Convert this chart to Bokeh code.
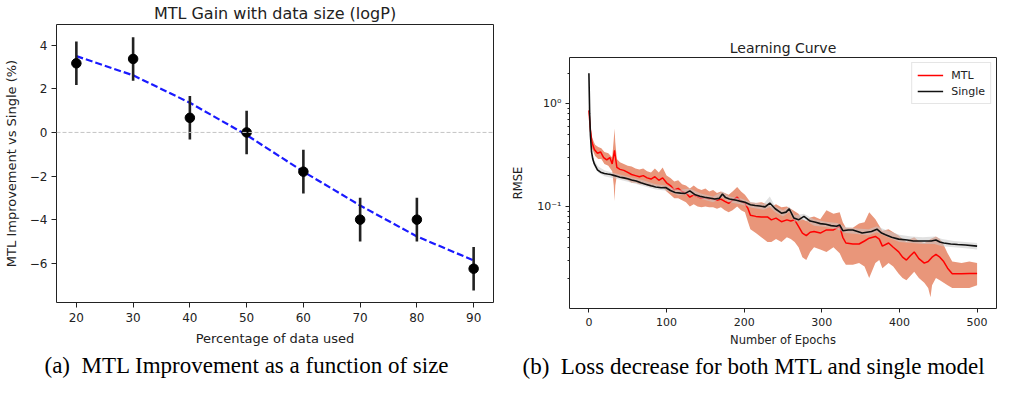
from bokeh.plotting import figure
from bokeh.layouts import row
from bokeh.models import (Range1d, FixedTicker, Span, Title, Legend, LegendItem,
                          CustomJSTickFormatter)
from bokeh.embed import file_html
from bokeh.resources import INLINE

# ---------------- Left panel data ----------------
pct_used = [20, 30, 40, 50, 60, 70, 80, 90]
gain_pct = [3.17, 3.37, 0.67, 0.0, -1.8, -4.0, -4.0, -6.25]
gain_err = [1.0, 1.0, 1.0, 1.0, 1.0, 1.0, 1.0, 1.0]
gain_fit = [3.5, 2.62, 1.36, -0.12, -1.8, -3.35, -4.77, -5.87]
left_yticks = [-6, -4, -2, 0, 2, 4]
caption_a = "(a)\u00a0 MTL Improvement as a function of size"

# ---------------- Right panel data ----------------
mtl_epochs = [0, 2, 4, 7, 11, 15, 19, 23, 27, 30, 33, 36, 40, 45, 50, 55, 60, 65, 70, 75,
              80, 85, 90, 95, 100, 105, 110, 115, 120, 125, 130, 135, 140, 145, 150, 155, 160, 165, 170, 175,
              180, 185, 191, 196, 201, 205, 208, 215, 222, 230, 235, 241, 248, 255, 260, 265, 270, 275, 280, 285,
              290, 298, 306, 315, 323, 327, 331, 340, 348, 355, 361, 369, 374, 378, 386, 392, 399, 404, 409, 414,
              419, 425, 432, 437, 442, 447, 452, 457, 462, 468, 480, 490, 500]
mtl_rmse = [0.865, 0.55, 0.42, 0.36, 0.33, 0.34, 0.30, 0.285, 0.30, 0.26, 0.353, 0.24, 0.23, 0.225, 0.215, 0.205, 0.20, 0.195, 0.20, 0.19,
            0.185, 0.195, 0.18, 0.19, 0.17, 0.16, 0.145, 0.15, 0.14, 0.135, 0.123, 0.13, 0.125, 0.12, 0.122, 0.118, 0.12, 0.115, 0.118, 0.112,
            0.107, 0.115, 0.123, 0.112, 0.107, 0.095, 0.082, 0.08, 0.079, 0.079, 0.074, 0.077, 0.071, 0.074, 0.072, 0.074, 0.064, 0.055, 0.052, 0.056,
            0.057, 0.055, 0.059, 0.059, 0.064, 0.05, 0.044, 0.043, 0.043, 0.046, 0.049, 0.051, 0.048, 0.041, 0.044, 0.04, 0.036, 0.032, 0.030, 0.033,
            0.036, 0.031, 0.028, 0.029, 0.032, 0.034, 0.032, 0.029, 0.025, 0.022, 0.022, 0.0222, 0.0222]

mtl_band_epochs = [0, 2, 4, 8, 12, 16, 20, 25, 30, 32, 33, 34, 36, 40, 45, 50, 55, 60, 65, 70,
                   75, 80, 85, 90, 95, 100, 105, 110, 115, 120, 125, 130, 135, 140, 145, 150, 155, 160, 165, 170,
                   175, 180, 185, 191, 196, 201, 205, 208, 215, 222, 230, 235, 241, 248, 255, 260, 265, 270, 275, 280,
                   285, 290, 298, 306, 315, 323, 327, 331, 340, 348, 355, 361, 369, 374, 378, 386, 392, 399, 404, 409,
                   414, 419, 425, 432, 437, 440, 442, 447, 452, 457, 462, 468, 480, 490, 500]
mtl_hi = [0.95, 0.62, 0.47, 0.40, 0.38, 0.37, 0.34, 0.33, 0.30, 0.45, 0.575, 0.42, 0.29, 0.27, 0.26, 0.25, 0.245, 0.235, 0.23, 0.235,
          0.22, 0.215, 0.235, 0.215, 0.24, 0.2, 0.19, 0.175, 0.18, 0.165, 0.16, 0.15, 0.16, 0.15, 0.145, 0.15, 0.14, 0.145, 0.135, 0.14,
          0.135, 0.13, 0.14, 0.155, 0.14, 0.13, 0.118, 0.11, 0.108, 0.11, 0.105, 0.1, 0.105, 0.098, 0.1, 0.095, 0.09, 0.085, 0.075, 0.072,
          0.078, 0.08, 0.075, 0.092, 0.085, 0.088, 0.07, 0.062, 0.062, 0.068, 0.07, 0.088, 0.075, 0.065, 0.058, 0.06, 0.056, 0.052, 0.048, 0.045,
          0.048, 0.05, 0.046, 0.044, 0.046, 0.048, 0.049, 0.051, 0.048, 0.042, 0.035, 0.029, 0.028, 0.029, 0.028]
mtl_lo = [0.80, 0.48, 0.37, 0.31, 0.29, 0.29, 0.26, 0.25, 0.22, 0.16, 0.113, 0.16, 0.20, 0.19, 0.185, 0.18, 0.17, 0.17, 0.165, 0.165,
          0.16, 0.155, 0.16, 0.155, 0.155, 0.14, 0.13, 0.12, 0.12, 0.115, 0.11, 0.1, 0.105, 0.1, 0.098, 0.1, 0.098, 0.098, 0.095, 0.098,
          0.092, 0.088, 0.092, 0.1, 0.092, 0.088, 0.07, 0.06, 0.055, 0.05, 0.045, 0.045, 0.048, 0.045, 0.05, 0.048, 0.045, 0.04, 0.032, 0.03,
          0.036, 0.04, 0.038, 0.036, 0.04, 0.035, 0.03, 0.027, 0.027, 0.028, 0.026, 0.02, 0.028, 0.03, 0.025, 0.028, 0.026, 0.022, 0.02, 0.019,
          0.021, 0.023, 0.02, 0.018, 0.016, 0.013, 0.017, 0.02, 0.019, 0.018, 0.017, 0.016, 0.016, 0.016, 0.017]

single_epochs = [0, 1, 2, 3.4, 5, 7, 11, 15, 20, 24, 28, 32, 36, 40, 45, 50, 55, 61, 67, 74,
                 80, 86, 93, 99, 105, 111, 118, 124, 130, 137, 143, 149, 155, 162, 168, 172, 176, 181, 190, 196,
                 201, 208, 214, 220, 227, 233, 240, 248, 254, 258, 264, 270, 277, 285, 292, 298, 305, 312, 319, 323,
                 327, 334, 340, 346, 352, 358, 364, 371, 377, 382, 390, 399, 410, 418, 424, 430, 436, 441, 447, 452,
                 457, 466, 475, 485, 500]
single_rmse = [1.99, 0.8, 0.49, 0.34, 0.29, 0.26, 0.228, 0.216, 0.21, 0.207, 0.205, 0.201, 0.197, 0.193, 0.19, 0.186, 0.181, 0.177, 0.17, 0.164,
               0.159, 0.155, 0.152, 0.153, 0.143, 0.137, 0.135, 0.134, 0.142, 0.13, 0.126, 0.123, 0.121, 0.118, 0.12, 0.132, 0.122, 0.118, 0.115, 0.112,
               0.11, 0.104, 0.102, 0.101, 0.099, 0.108, 0.095, 0.086, 0.088, 0.095, 0.077, 0.074, 0.08, 0.072, 0.07, 0.068, 0.067, 0.065, 0.064, 0.066,
               0.058, 0.059, 0.059, 0.057, 0.055, 0.056, 0.057, 0.06, 0.055, 0.053, 0.05, 0.048, 0.047, 0.046, 0.046, 0.046, 0.046, 0.046, 0.047, 0.045,
               0.044, 0.043, 0.0425, 0.042, 0.041]

single_band_epochs = [0, 1, 2, 4, 7, 12, 20, 30, 40, 55, 70, 86, 100, 115, 130, 145, 160, 172, 181, 195,
                      210, 225, 233, 240, 250, 258, 265, 277, 290, 305, 320, 330, 345, 360, 371, 385, 400, 415, 430, 445,
                      455, 470, 485, 500]
single_hi = [2.3, 0.95, 0.55, 0.33, 0.28, 0.245, 0.225, 0.215, 0.205, 0.192, 0.18, 0.165, 0.16, 0.145, 0.15, 0.133, 0.125, 0.14, 0.125, 0.12,
             0.11, 0.106, 0.125, 0.1, 0.092, 0.1, 0.082, 0.085, 0.075, 0.071, 0.069, 0.063, 0.061, 0.06, 0.064, 0.058, 0.053, 0.051, 0.05, 0.051,
             0.048, 0.046, 0.045, 0.044]
single_lo = [1.8, 0.7, 0.44, 0.29, 0.245, 0.215, 0.197, 0.19, 0.182, 0.17, 0.158, 0.146, 0.142, 0.128, 0.132, 0.118, 0.11, 0.122, 0.11, 0.105,
             0.097, 0.093, 0.098, 0.088, 0.08, 0.088, 0.071, 0.074, 0.065, 0.063, 0.06, 0.055, 0.054, 0.052, 0.056, 0.05, 0.045, 0.044, 0.043, 0.043,
             0.041, 0.04, 0.039, 0.038]

epoch_ticks = [0, 100, 200, 300, 400, 500]
log_major = [0.1, 1]
log_minor = [0.02, 0.03, 0.04, 0.05, 0.06, 0.07, 0.08, 0.09,
             0.2, 0.3, 0.4, 0.5, 0.6, 0.7, 0.8, 0.9, 2]
caption_b = "(b)\u00a0 Loss decrease for both MTL and single model"

SANS = "DejaVu Sans"
SERIF = "Liberation Serif"
INK = "#222222"


def style_axes(p, tick_size, label_size, tick_out):
    p.xgrid.visible = False
    p.ygrid.visible = False
    p.outline_line_color = INK
    p.outline_line_width = 1
    for ax in (p.xaxis[0], p.yaxis[0]):
        ax.axis_line_color = None
        ax.major_tick_in = 0
        ax.major_tick_out = tick_out
        ax.major_tick_line_color = INK
        ax.minor_tick_in = 0
        ax.minor_tick_out = 2
        ax.minor_tick_line_color = INK
        ax.major_label_text_font = SANS
        ax.major_label_text_font_size = tick_size
        ax.major_label_text_color = INK
        ax.axis_label_text_font = SANS
        ax.axis_label_text_font_size = label_size
        ax.axis_label_text_font_style = "normal"
        ax.axis_label_text_color = INK


def add_caption(p, text, offset):
    p.add_layout(Title(text=text, text_font=SERIF, text_font_size="23px",
                       text_font_style="normal", text_color="black",
                       align="left", offset=offset, standoff=4), "below")


# ---------------- Left figure ----------------
p1 = figure(width=505, height=380, x_range=Range1d(16.5, 93.5), y_range=Range1d(-7.8, 4.95),
            output_backend="svg", toolbar_location=None,
            min_border_left=52, min_border_right=12, min_border_top=22, min_border_bottom=78)
p1.frame_align = False
p1.title.text = "MTL Gain with data size (logP)"
p1.title.align = "center"
p1.title.text_font = SANS
p1.title.text_font_size = "16px"
p1.title.text_font_style = "normal"
p1.title.text_color = INK
p1.title.standoff = 3

style_axes(p1, "12px", "13px", 5)
p1.xaxis.ticker = FixedTicker(ticks=pct_used)
p1.yaxis.ticker = FixedTicker(ticks=left_yticks)
p1.yaxis.major_label_overrides = {t: (str(t).replace("-", "\u2212")) for t in left_yticks}
p1.xaxis.axis_label = "Percentage of data used"
p1.yaxis.axis_label = "MTL Improvement vs Single (%)"
p1.xaxis.major_label_standoff = 5
p1.yaxis.major_label_standoff = 4
p1.xaxis.axis_label_standoff = 6
p1.yaxis.axis_label_standoff = 8

p1.add_layout(Span(location=0, dimension="width", line_color="#c4c4c4",
                   line_dash="4 2", line_width=1))
p1.line(pct_used, gain_fit, line_color="#1a1aff", line_width=2.2, line_dash="7 3")
err_lo = [g - e for g, e in zip(gain_pct, gain_err)]
err_hi = [g + e for g, e in zip(gain_pct, gain_err)]
p1.segment(x0=pct_used, y0=err_lo, x1=pct_used, y1=err_hi, line_color=INK, line_width=2.6)
p1.scatter(pct_used, gain_pct, size=9.5, fill_color="black", line_color="black")
add_caption(p1, caption_a, -12)

# ---------------- Right figure ----------------
p2 = figure(width=493, height=380, x_range=Range1d(-25, 525), y_range=Range1d(0.0101, 2.84),
            y_axis_type="log", output_backend="svg", toolbar_location=None,
            min_border_left=64, min_border_right=2, min_border_top=57, min_border_bottom=72)
p2.frame_align = False
p2.title.text = "Learning Curve"
p2.title.align = "center"
p2.title.text_font = SANS
p2.title.text_font_size = "14px"
p2.title.text_font_style = "normal"
p2.title.text_color = INK
p2.title.standoff = 3

style_axes(p2, "11px", "11.5px", 4)
p2.xaxis.ticker = FixedTicker(ticks=epoch_ticks)
p2.yaxis.ticker = FixedTicker(ticks=log_major, minor_ticks=log_minor)
p2.yaxis.formatter = CustomJSTickFormatter(code="""
const e = Math.round(Math.log10(tick));
const sup = {"0":"\u2070","1":"\u00b9","2":"\u00b2","3":"\u00b3","-":"\u207b"};
return "10" + String(e).split("").map(c => sup[c]).join("");
""")
p2.xaxis.axis_label = "Number of Epochs"
p2.yaxis.axis_label = "RMSE"
p2.xaxis.major_label_standoff = 5
p2.yaxis.major_label_standoff = 4
p2.xaxis.axis_label_standoff = 4
p2.yaxis.axis_label_standoff = 9

p2.varea(x=mtl_band_epochs, y1=mtl_lo, y2=mtl_hi, fill_color="#e9967a", fill_alpha=1.0)
r_mtl = p2.line(mtl_epochs, mtl_rmse, line_color="#ff0000", line_width=1.5)
p2.varea(x=single_band_epochs, y1=single_lo, y2=single_hi, fill_color="#c8c8c8", fill_alpha=0.55)
r_single = p2.line(single_epochs, single_rmse, line_color="#111111", line_width=1.6)

legend = Legend(items=[LegendItem(label="MTL", renderers=[r_mtl]),
                       LegendItem(label="Single", renderers=[r_single])],
                location="top_right")
legend.label_text_font = SANS
legend.label_text_font_size = "11px"
legend.label_text_color = INK
legend.glyph_width = 26
legend.glyph_height = 14
legend.label_height = 14
legend.label_standoff = 8
legend.padding = 5
legend.spacing = 2
legend.margin = 5
legend.border_line_color = "#cccccc"
legend.background_fill_alpha = 0.85
p2.add_layout(legend)
add_caption(p2, caption_b, -47)

layout = row(p1, p2)
open("out.html", "w").write(file_html(layout, INLINE))
